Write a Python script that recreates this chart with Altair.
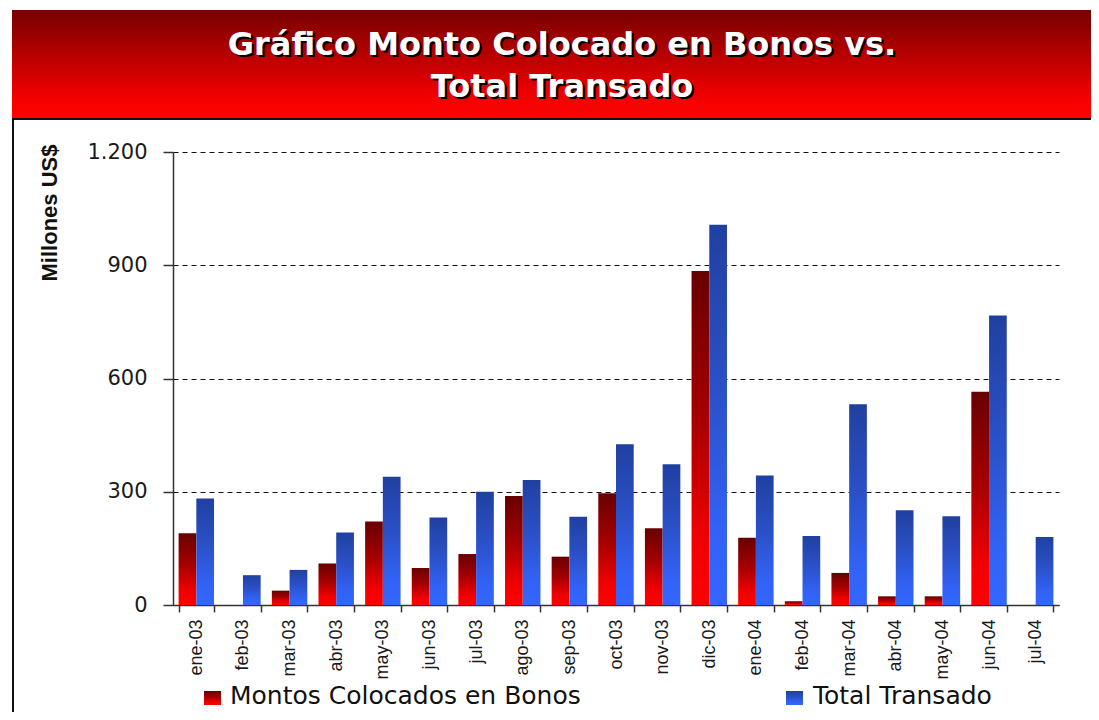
import altair as alt
import pandas as pd

meses = ["ene-03", "feb-03", "mar-03", "abr-03", "may-03", "jun-03", "jul-03",
         "ago-03", "sep-03", "oct-03", "nov-03", "dic-03", "ene-04", "feb-04",
         "mar-04", "abr-04", "may-04", "jun-04", "jul-04"]
montos = [190, 0, 38, 110, 221, 98, 135, 289, 128, 296, 203, 885, 178, 10, 85, 23, 23, 565, 0]
total = [282, 79, 93, 192, 340, 232, 300, 331, 234, 426, 373, 1007, 343, 183, 532, 251, 235, 767, 180]
series = ["Montos Colocados en Bonos", "Total Transado"]
y_ticks = [0, 300, 600, 900, 1200]
title_lines = ["Gráfico Monto Colocado en Bonos vs.", "Total Transado"]
y_title = "Millones US$"

rows = []
for m, a, b in zip(meses, montos, total):
    rows.append({"mes": m, "serie": series[0], "valor": a})
    rows.append({"mes": m, "serie": series[1], "valor": b})
df = pd.DataFrame(rows)

def grad(stops):
    return alt.Gradient(gradient="linear", x1=0, x2=0, y1=0, y2=1,
                        stops=[alt.GradientStop(color=c, offset=o) for o, c in stops])

red_grad = grad([(0, "#680000"), (0.45, "#a80000"), (0.8, "#f00000"), (1, "#ff0000")])
blue_grad = grad([(0, "#2040a0"), (0.4, "#2a4fc4"), (0.8, "#3262f4"), (1, "#3366ff")])
banner_grad = grad([(0, "#760000"), (0.5, "#c40000"), (0.85, "#f80000"), (1, "#ff0000")])

one = alt.Data(values=[{"k": 1}])

bars = alt.Chart(df).mark_bar().encode(
    x=alt.X("mes:N", sort=meses,
            scale=alt.Scale(paddingInner=0.24, paddingOuter=0.12),
            axis=alt.Axis(title=None, labelAngle=270, tickBand="extent",
                          labelFont="Liberation Sans", labelFontSize=18,
                          labelColor="#1a1a1a", labelPadding=7,
                          tickSize=7, tickColor="#333", tickWidth=1.5,
                          domainColor="#333", domainWidth=1.5)),
    xOffset=alt.XOffset("serie:N", sort=series, scale=alt.Scale(domain=series)),
    y=alt.Y("valor:Q", scale=alt.Scale(domain=[0, 1200], nice=False),
            axis=alt.Axis(title=None, values=y_ticks,
                          labelExpr="replace(format(datum.value, ','), ',', '.')",
                          grid=True, gridDash=[5, 4], gridColor="#111", gridWidth=1,
                          tickSize=10, tickColor="#333", tickWidth=1.5,
                          labelPadding=16, labelFont="DejaVu Sans", labelFontSize=21,
                          labelColor="#1a1a1a", domainColor="#333", domainWidth=1.5)),
    fill=alt.condition(alt.datum.serie == series[0], alt.value(red_grad), alt.value(blue_grad)),
)

banner = alt.Chart(one).mark_rect(fill=banner_grad).encode(
    x=alt.value(-161), x2=alt.value(918), y=alt.value(-142), y2=alt.value(-34))

frame_top = alt.Chart(one).mark_rule(color="#111", strokeWidth=2).encode(
    x=alt.value(-161), x2=alt.value(918), y=alt.value(-33))
frame_left = alt.Chart(one).mark_rule(color="#111", strokeWidth=2).encode(
    x=alt.value(-160), y=alt.value(-34), y2=alt.value(560))

def title_text(txt, y, color, d):
    return alt.Chart(one).mark_text(text=txt, font="DejaVu Sans", fontWeight="bold",
                                    fontSize=32, color=color, align="center",
                                    baseline="alphabetic", dx=d, dy=d).encode(
        x=alt.value(389), y=alt.value(y))

titles = [title_text(title_lines[0], -97, "#000", 2), title_text(title_lines[0], -97, "#fff", 0),
          title_text(title_lines[1], -55, "#000", 2), title_text(title_lines[1], -55, "#fff", 0)]

ytitle = alt.Chart(one).mark_text(text=y_title, font="Liberation Sans", fontWeight="bold",
                                  fontSize=22, angle=270, color="#111", align="center",
                                  baseline="middle").encode(
    x=alt.value(-123), y=alt.value(61))

leg_red = alt.Chart(one).mark_rect(fill=red_grad).encode(
    x=alt.value(31), x2=alt.value(48), y=alt.value(539), y2=alt.value(553))
leg_blue = alt.Chart(one).mark_rect(fill=blue_grad).encode(
    x=alt.value(613), x2=alt.value(630), y=alt.value(539), y2=alt.value(553))
leg_t1 = alt.Chart(one).mark_text(text=series[0], font="DejaVu Sans", fontSize=25,
                                  color="#111", align="left", baseline="alphabetic").encode(
    x=alt.value(57), y=alt.value(552))
leg_t2 = alt.Chart(one).mark_text(text=series[1], font="DejaVu Sans", fontSize=25,
                                  color="#111", align="left", baseline="alphabetic").encode(
    x=alt.value(640), y=alt.value(552))

chart = alt.layer(bars, banner, frame_top, frame_left, *titles, ytitle,
                  leg_red, leg_blue, leg_t1, leg_t2).properties(
    width=886, height=453,
    autosize=alt.AutoSizeParams(type="none"),
    padding={"left": 165, "top": 144, "right": 32, "bottom": 107},
    background="white",
).configure_view(stroke=None)

chart.save("out.html", embed_options={"renderer": "svg", "actions": False})
